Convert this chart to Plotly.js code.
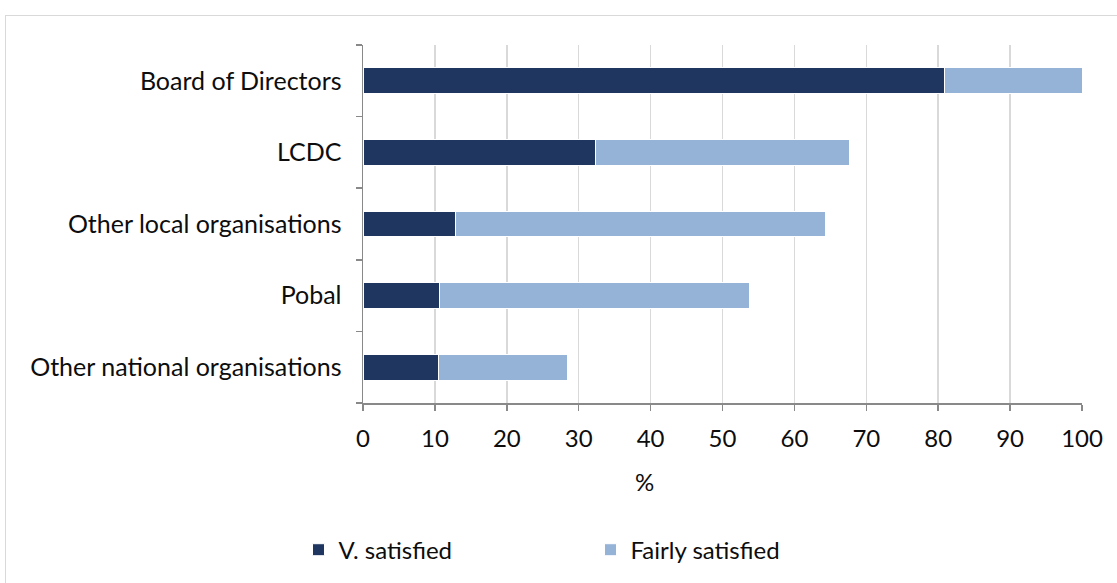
<!DOCTYPE html>
<html>
<head>
<meta charset="utf-8">
<script src="https://cdn.plot.ly/plotly-3.0.1.min.js"></script>
<style>
html,body{margin:0;padding:0;background:#fff;}
#frame{position:absolute;left:5px;top:15px;width:1130px;height:600px;border:1px solid #d9d9d9;box-sizing:border-box;}
#chart{position:absolute;left:0;top:0;width:1117px;height:583px;}
</style>
</head>
<body>
<div id="frame"></div>
<div id="chart"></div>
<script>
var categories = ["Other national organisations", "Pobal", "Other local organisations", "LCDC", "Board of Directors"];
var verySatisfied = [10.5, 10.7, 12.8, 32.3, 80.9];
var fairlySatisfied = [17.9, 43.1, 51.5, 35.3, 19.1];
var xTicks = [0, 10, 20, 30, 40, 50, 60, 70, 80, 90, 100];
var xTitle = '%';

var fontFam = "Lato, 'Open Sans', sans-serif";
var data = [
  {type: 'bar', orientation: 'h', name: 'V. satisfied', y: categories, x: verySatisfied,
   marker: {color: '#1F3660', line: {color: '#ffffff', width: 1}}},
  {type: 'bar', orientation: 'h', name: 'Fairly satisfied', y: categories, x: fairlySatisfied,
   marker: {color: '#95B3D7', line: {color: '#ffffff', width: 1}}}
];
var layout = {
  width: 1117, height: 583,
  margin: {l: 363, r: 35, t: 45, b: 179},
  paper_bgcolor: 'rgba(0,0,0,0)', plot_bgcolor: 'rgba(0,0,0,0)',
  barmode: 'stack', bargap: 0.64,
  font: {family: fontFam, size: 24, color: '#0d0d0d'},
  showlegend: true,
  legend: {orientation: 'h', x: -0.0897, xanchor: 'left', y: -0.407, yanchor: 'middle',
           font: {size: 24}, entrywidth: 247, traceorder: 'normal'},
  annotations: [{text: xTitle, xref: 'paper', yref: 'paper', x: 0.392, y: -0.22,
                 xanchor: 'center', yanchor: 'middle', showarrow: false, font: {size: 24}}],
  xaxis: {range: [0, 100], tickvals: xTicks, ticktext: xTicks.map(String),
          showgrid: true, gridcolor: '#d9d9d9', gridwidth: 1.5,
          showline: true, linecolor: '#898989', linewidth: 1.5,
          ticks: 'outside', ticklen: 6, tickcolor: '#898989', tickwidth: 1.5,
          ticklabelstandoff: 8, zeroline: false, fixedrange: true},
  yaxis: {type: 'category', showline: true, linecolor: '#898989', linewidth: 1.5,
          ticks: 'outside', tickson: 'boundaries', ticklen: 6, tickcolor: '#898989', tickwidth: 1.5,
          showgrid: false, ticklabelstandoff: 15, tickfont: {size: 25}, fixedrange: true}
};
Plotly.newPlot('chart', data, layout, {displayModeBar: false, staticPlot: true});
</script>
</body>
</html>
